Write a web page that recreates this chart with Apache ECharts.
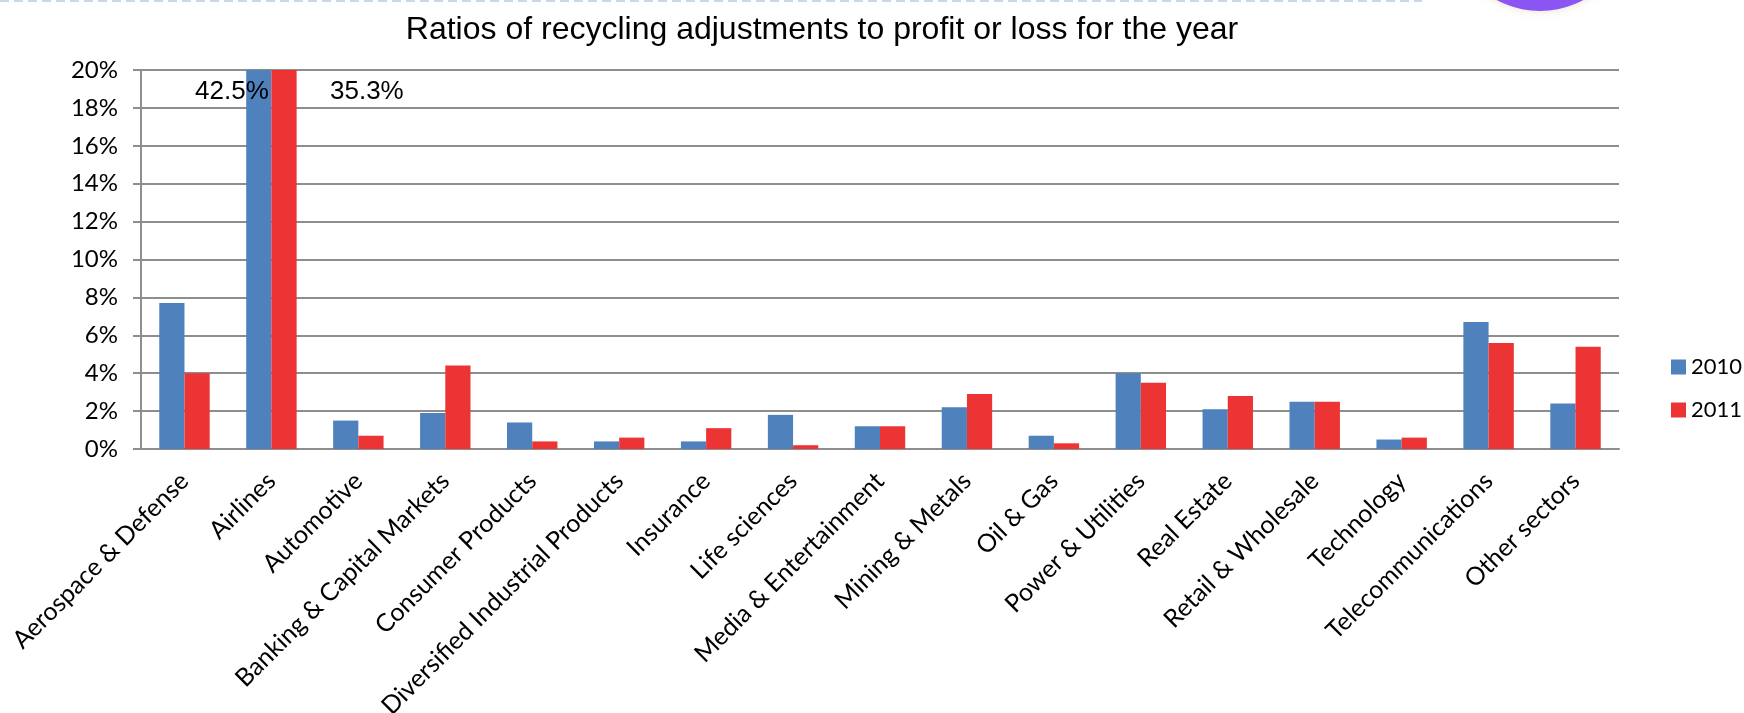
<!DOCTYPE html>
<html>
<head>
<meta charset="utf-8">
<script src="https://cdn.jsdelivr.net/npm/echarts@6/dist/echarts.min.js"></script>
<style>
  html, body { margin: 0; padding: 0; background: #fff; }
  #chart { width: 1744px; height: 713px; }
</style>
</head>
<body>
<div id="chart"></div>
<script>
// sectors on the x axis
const categories = [
    'Aerospace & Defense', 'Airlines', 'Automotive', 'Banking & Capital Markets',
    'Consumer Products', 'Diversified Industrial Products', 'Insurance', 'Life sciences',
    'Media & Entertainment', 'Mining & Metals', 'Oil & Gas', 'Power & Utilities',
    'Real Estate', 'Retail & Wholesale', 'Technology', 'Telecommunications', 'Other sectors'
];
// ratios in %
const values2010 = [7.7, 42.5, 1.5, 1.9, 1.4, 0.4, 0.4, 1.8, 1.2, 2.2, 0.7, 4.0, 2.1, 2.5, 0.5, 6.7, 2.4];
const values2011 = [4.0, 35.3, 0.7, 4.4, 0.4, 0.6, 1.1, 0.2, 1.2, 2.9, 0.3, 3.5, 2.8, 2.5, 0.6, 5.6, 5.4];
const yTicks = [0, 2, 4, 6, 8, 10, 12, 14, 16, 18, 20];

const yMax = yTicks[yTicks.length - 1];
const axisColor = '#8e8e8e';
const labelFont = 'Lato, "Noto Sans", sans-serif';

const chart = echarts.init(document.getElementById('chart'));

// bars that go past the axis max get their real value written next to them
function overflowMark(values, align, offset) {
    let data = [];
    values.forEach(function (v, i) {
        if (v > yMax) {
            data.push({ coord: [categories[i], yMax], value: v });
        }
    });
    return {
        symbol: 'rect',
        symbolSize: 0,
        silent: true,
        label: {
            show: true,
            position: 'inside',
            formatter: '{c}%',
            align: align,
            verticalAlign: 'middle',
            offset: offset,
            color: '#000',
            fontSize: 26,
            fontFamily: 'Arial, "Liberation Sans", sans-serif'
        },
        data: data
    };
}

const option = {
    backgroundColor: '#fff',
    animation: false,
    title: {
        text: 'Ratios of recycling adjustments to profit or loss for the year',
        left: 817,
        top: 9,
        textAlign: 'center',
        textStyle: {
            fontSize: 32,
            fontWeight: 'normal',
            color: '#000',
            fontFamily: 'Arial, "Liberation Sans", sans-serif'
        }
    },
    legend: {
        orient: 'vertical',
        left: 1666,
        top: 351,
        itemWidth: 15,
        itemHeight: 15,
        itemGap: 21,
        icon: 'rect',
        textStyle: {
            fontSize: 22,
            color: '#000',
            fontFamily: labelFont
        },
        data: ['2010', '2011']
    },
    grid: {
        left: 141,
        right: 125,
        top: 70,
        bottom: 264,
        outerBoundsMode: 'none'
    },
    xAxis: {
        type: 'category',
        data: categories,
        axisLine: { lineStyle: { color: axisColor, width: 2 } },
        axisTick: { length: 8, lineStyle: { color: axisColor, width: 2 } },
        axisLabel: {
            rotate: 45,
            interval: 0,
            margin: 28,
            color: '#000',
            fontSize: 25,
            fontFamily: labelFont
        }
    },
    yAxis: {
        type: 'value',
        min: yTicks[0],
        max: yMax,
        interval: yTicks[1] - yTicks[0],
        axisLine: { show: true, lineStyle: { color: axisColor, width: 2 } },
        axisTick: { show: true, length: 8, lineStyle: { color: axisColor, width: 2 } },
        splitLine: { lineStyle: { color: axisColor, width: 2 } },
        axisLabel: {
            formatter: '{value}%',
            margin: 23,
            color: '#000',
            fontSize: 24,
            fontFamily: labelFont
        }
    },
    series: [
        {
            name: '2010',
            type: 'bar',
            data: values2010,
            clip: true,
            barGap: '0%',
            barCategoryGap: '42%',
            itemStyle: { color: '#4f81bd' },
            markPoint: overflowMark(values2010, 'right', [10, 22])
        },
        {
            name: '2011',
            type: 'bar',
            data: values2011,
            clip: true,
            itemStyle: { color: '#ec3434' },
            markPoint: overflowMark(values2011, 'left', [46, 22])
        }
    ],
    graphic: [
        // slide decorations: dashed rule and purple bubble at the top
        {
            type: 'line',
            silent: true,
            shape: { x1: 0, y1: 1, x2: 1422, y2: 1 },
            style: { stroke: '#c8d7ea', lineWidth: 2, lineDash: [9, 5] }
        },
        {
            type: 'circle',
            silent: true,
            shape: { cx: 1540, cy: -80, r: 91 },
            style: { fill: '#8a55f2', shadowBlur: 8, shadowColor: 'rgba(180,170,120,0.35)' }
        }
    ]
};

chart.setOption(option);
</script>
</body>
</html>
